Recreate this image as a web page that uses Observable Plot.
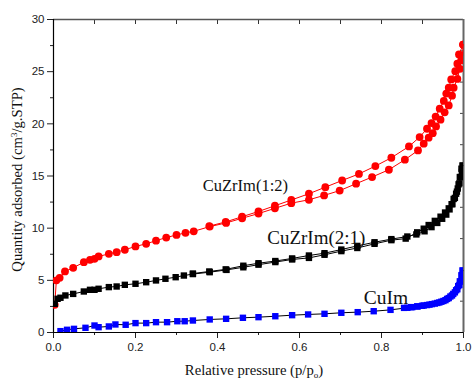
<!DOCTYPE html>
<html>
<head>
<meta charset="utf-8">
<script src="https://cdn.jsdelivr.net/npm/d3@7"></script>
<script src="https://cdn.jsdelivr.net/npm/@observablehq/plot@0.6"></script>
<style>
  html, body { margin: 0; padding: 0; background: #fff; }
</style>
</head>
<body>
<div id="chart"></div>
<script>
// ---- Data ----
// CuZrIm(1:2) - red circles
const redAdsX = [0.003, 0.007, 0.015, 0.028, 0.048, 0.074, 0.089, 0.10, 0.11, 0.135, 0.154, 0.174, 0.2, 0.226, 0.25, 0.275, 0.30, 0.322, 0.342, 0.381, 0.421, 0.46, 0.50, 0.54, 0.58, 0.623, 0.66, 0.698, 0.738, 0.777, 0.818, 0.857, 0.889, 0.903, 0.915, 0.925, 0.933, 0.944, 0.954, 0.964, 0.972, 0.976, 0.985, 0.991, 0.995, 0.998, 0.999];
const redAdsY = [2.65, 5.0, 5.24, 5.85, 6.2, 6.74, 6.97, 7.06, 7.29, 7.54, 7.7, 7.93, 8.25, 8.5, 8.8, 9.1, 9.35, 9.55, 9.7, 10.15, 10.5, 10.95, 11.4, 11.9, 12.4, 12.72, 13.14, 13.6, 14.26, 14.9, 15.6, 16.56, 17.45, 18.1, 18.67, 19.1, 19.75, 20.4, 21.1, 21.76, 22.7, 23.46, 24.3, 25.27, 26.08, 26.56, 27.6];
const redDesX = [0.999, 0.989, 0.985, 0.98, 0.97, 0.964, 0.958, 0.952, 0.942, 0.932, 0.922, 0.911, 0.893, 0.867, 0.824, 0.785, 0.745, 0.704, 0.663, 0.623, 0.58, 0.54, 0.50, 0.46, 0.42, 0.38];
const redDesY = [27.6, 26.65, 25.76, 25.05, 24.26, 23.46, 22.9, 22.2, 21.45, 20.7, 20.07, 19.53, 18.73, 17.83, 16.75, 15.95, 15.2, 14.57, 13.93, 13.3, 12.7, 12.15, 11.6, 11.1, 10.6, 10.2];

// CuZrIm(2:1) - black squares
const blackAdsX = [0.003, 0.01, 0.017, 0.029, 0.048, 0.074, 0.089, 0.10, 0.11, 0.135, 0.154, 0.174, 0.2, 0.226, 0.25, 0.273, 0.298, 0.318, 0.34, 0.381, 0.422, 0.463, 0.50, 0.541, 0.582, 0.623, 0.661, 0.702, 0.741, 0.783, 0.824, 0.859, 0.887, 0.903, 0.915, 0.93, 0.944, 0.955, 0.964, 0.971, 0.976, 0.982, 0.986, 0.99, 0.993, 0.996, 0.998];
const blackAdsY = [2.75, 3.23, 3.33, 3.55, 3.7, 3.93, 4.09, 4.09, 4.19, 4.35, 4.41, 4.57, 4.67, 4.82, 4.99, 5.15, 5.3, 5.46, 5.6, 5.78, 6.0, 6.25, 6.5, 6.75, 7.0, 7.15, 7.45, 7.8, 8.1, 8.5, 8.85, 9.0, 9.6, 9.95, 10.3, 10.7, 11.1, 11.5, 11.9, 12.3, 12.8, 13.3, 13.8, 14.3, 14.9, 15.4, 16.0];
const blackDesX = [0.998, 0.995, 0.991, 0.988, 0.984, 0.979, 0.973, 0.966, 0.958, 0.948, 0.936, 0.922, 0.905, 0.885, 0.863, 0.824, 0.783, 0.741, 0.702, 0.661, 0.623, 0.582, 0.541, 0.50, 0.463, 0.42, 0.38, 0.34];
const blackDesY = [16.0, 15.7, 14.9, 14.2, 13.5, 12.9, 12.3, 11.8, 11.3, 10.9, 10.5, 10.1, 9.7, 9.4, 9.2, 8.95, 8.65, 8.3, 7.95, 7.6, 7.38, 7.1, 6.85, 6.64, 6.4, 6.05, 5.85, 5.65];

// CuIm - blue squares
const blueAdsX = [0.017, 0.033, 0.05, 0.078, 0.10, 0.11, 0.135, 0.151, 0.176, 0.2, 0.226, 0.25, 0.277, 0.302, 0.32, 0.34, 0.381, 0.421, 0.462, 0.50, 0.541, 0.582, 0.621, 0.661, 0.702, 0.742, 0.781, 0.822, 0.863, 0.875, 0.887, 0.899, 0.911, 0.923, 0.936, 0.946, 0.956, 0.964, 0.972, 0.979, 0.985, 0.99, 0.993, 0.996, 0.998];
const blueAdsY = [0.13, 0.26, 0.35, 0.45, 0.67, 0.51, 0.58, 0.77, 0.74, 0.9, 0.9, 0.99, 0.99, 1.08, 1.08, 1.15, 1.25, 1.31, 1.41, 1.47, 1.56, 1.66, 1.73, 1.79, 1.89, 1.95, 2.04, 2.17, 2.37, 2.43, 2.5, 2.56, 2.63, 2.72, 2.83, 2.95, 3.1, 3.3, 3.55, 3.85, 4.15, 4.55, 4.9, 5.4, 5.94];
const blueDesX = [0.998, 0.995, 0.991, 0.987, 0.982, 0.975, 0.968, 0.96, 0.951, 0.941, 0.93, 0.917, 0.903, 0.888, 0.872, 0.855];
const blueDesY = [5.94, 5.5, 4.9, 4.45, 4.05, 3.7, 3.45, 3.22, 3.02, 2.88, 2.77, 2.67, 2.59, 2.5, 2.43, 2.36];

// Labels
const seriesNames = ["CuZrIm(1:2)", "CuZrIm(2:1)", "CuIm"];
const labelX = [0.468, 0.641, 0.811];
const labelY = [14.1, 9.1, 3.3];
const labelSize = [16.5, 19, 19.5];

// Axes / ticks
const xTicks = [0, 0.2, 0.4, 0.6, 0.8, 1.0];
const xTickLabels = ["0.0", "0.2", "0.4", "0.6", "0.8", "1.0"];
const xMinorTicks = [0.1, 0.3, 0.5, 0.7, 0.9];
const xTopTicks = [0.1, 0.2, 0.3, 0.4, 0.5, 0.6, 0.7, 0.8, 0.9];
const yTicks = [0, 5, 10, 15, 20, 25, 30];
const yTickLabels = ["0", "5", "10", "15", "20", "25", "30"];
const yMinorTicks = [2.5, 7.5, 12.5, 17.5, 22.5, 27.5];
const yRightTicks = [3, 6, 9, 12, 15, 18, 21, 24, 27];
const xTitle = "Relative pressure (p/po)";
const yTitle = "Quantity adsorbed (cm3/g.STP)";

// ---- Build tables ----
const zip = (xs, ys) => xs.map((x, i) => ({x, y: ys[i]}));
const redAds = zip(redAdsX, redAdsY), redDes = zip(redDesX, redDesY);
const blackAds = zip(blackAdsX, blackAdsY), blackDes = zip(blackDesX, blackDesY);
const blueAds = zip(blueAdsX, blueAdsY), blueDes = zip(blueDesX, blueDesY);
const labels = seriesNames.map((t, i) => ({t, x: labelX[i], y: labelY[i], s: labelSize[i]}));

const xFmt = new Map(xTicks.map((d, i) => [d, xTickLabels[i]]));
const yFmt = new Map(yTicks.map((d, i) => [d, yTickLabels[i]]));

const serif = "'Liberation Serif', 'Times New Roman', Times, serif";
const R = 3.6;

const chart = Plot.plot({
  width: 472,
  height: 381,
  marginLeft: 53,
  marginRight: 9,
  marginTop: 19,
  marginBottom: 49,
  x: {domain: [0, 1]},
  y: {domain: [0, 30]},
  style: {fontFamily: "'Liberation Sans', Arial, sans-serif", fontSize: "11px", color: "#222", background: "#fff"},
  marks: [
    // axis labels & ticks
    Plot.axisX({ticks: xTicks, tickSize: 6, tickPadding: 4, tickFormat: d => xFmt.get(d), label: null, fontSize: 11.5}),
    Plot.axisX({ticks: xMinorTicks, tickSize: 3, text: null, label: null}),
    Plot.axisX({anchor: "top", ticks: xTopTicks, tickSize: -4, text: null, label: null, stroke: "#333"}),
    Plot.axisY({ticks: yTicks, tickSize: 6, tickPadding: 3, tickFormat: d => yFmt.get(d), label: null, fontSize: 11.5}),
    Plot.axisY({ticks: yMinorTicks, tickSize: 3, text: null, label: null}),
    Plot.axisY({anchor: "right", ticks: yRightTicks, tickSize: -4, text: null, label: null, stroke: "#444"}),
    // frame
    Plot.ruleY([30], {stroke: "#555", strokeWidth: 1.5}),
    Plot.ruleX([1], {stroke: "#666", strokeWidth: 2}),
    Plot.ruleX([0], {stroke: "#000", strokeWidth: 1.2}),
    Plot.ruleY([0], {stroke: "#000", strokeWidth: 1.2}),
    // series lines
    Plot.line(redAds, {x: "x", y: "y", stroke: "#ff0000", strokeWidth: 1}),
    Plot.line(redDes, {x: "x", y: "y", stroke: "#ff0000", strokeWidth: 1}),
    Plot.line(blackAds, {x: "x", y: "y", stroke: "#000", strokeWidth: 1}),
    Plot.line(blackDes, {x: "x", y: "y", stroke: "#000", strokeWidth: 1}),
    Plot.line(blueAds, {x: "x", y: "y", stroke: "#000", strokeWidth: 1}),
    Plot.line(blueDes, {x: "x", y: "y", stroke: "#000", strokeWidth: 1}),
    // markers
    Plot.dot(redAds.concat(redDes), {x: "x", y: "y", r: R + 0.3, symbol: "circle", fill: "#ff0000", stroke: "none", clip: true}),
    Plot.dot(blackAds.concat(blackDes), {x: "x", y: "y", r: R, symbol: "square", fill: "#000", stroke: "none", clip: true}),
    Plot.dot(blueAds.concat(blueDes), {x: "x", y: "y", r: R, symbol: "square", fill: "#0000ff", stroke: "none", clip: true}),
    // annotations
    ...labels.map(l => Plot.text([l], {x: "x", y: "y", text: "t", fontSize: l.s, fontFamily: serif, fill: "#111"})),
    // axis titles
    Plot.text([yTitle], {frameAnchor: "left", textAnchor: "middle", lineAnchor: "middle", dx: -36.7, dy: 3.5, rotate: -90, fontSize: 14.7, fontFamily: serif, fill: "#111"}),
    Plot.text([xTitle], {frameAnchor: "bottom", textAnchor: "middle", lineAnchor: "middle", dx: -4.5, dy: 37.5, fontSize: 14.7, fontFamily: serif, fill: "#111"})
  ]
});

// Super/subscripts in the axis titles
d3.select(chart).selectAll("text").each(function() {
  const el = d3.select(this);
  const t = el.text();
  if (t === yTitle) {
    el.text("");
    el.append("tspan").text("Quantity adsorbed (cm");
    el.append("tspan").attr("baseline-shift", "super").attr("font-size", "9").text("3");
    el.append("tspan").text("/g.STP)");
  } else if (t === xTitle) {
    el.text("");
    el.append("tspan").text("Relative pressure (p/p");
    el.append("tspan").attr("baseline-shift", "-2.5").attr("font-size", "9").text("o");
    el.append("tspan").text(")");
  }
});

document.getElementById("chart").appendChild(chart);
</script>
</body>
</html>
